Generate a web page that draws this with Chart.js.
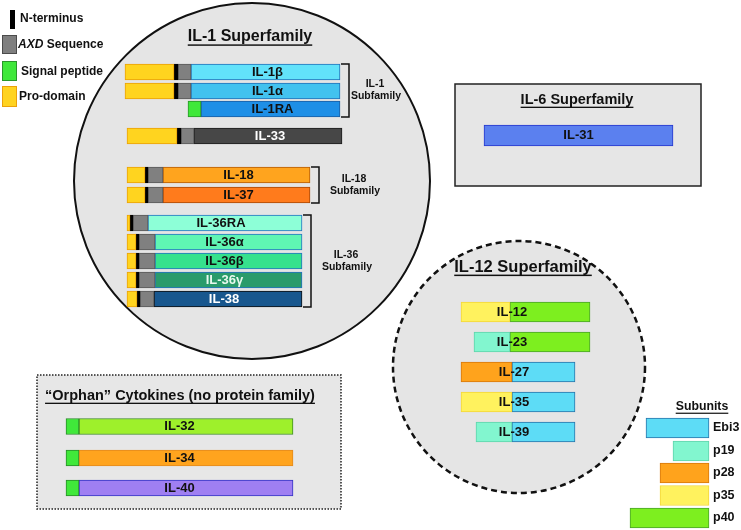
<!DOCTYPE html>
<html>
<head>
<meta charset="utf-8">
<script src="https://cdn.jsdelivr.net/npm/chart.js@4.4.1/dist/chart.umd.min.js"></script>
<style>
html, body { margin: 0; padding: 0; background: #fff; }
#wrap { width: 741px; height: 530px; }
</style>
</head>
<body>
<div id="wrap"><canvas id="c" width="741" height="530"></canvas></div>
<script>
const FONT = '"Liberation Sans", Arial, sans-serif';

// IL-1 superfamily (segment ends along the drawing's x axis, row centres on y)
const il1Names  = ['IL-1β', 'IL-1α', 'IL-1RA', 'IL-33', 'IL-18', 'IL-37', 'IL-36RA', 'IL-36α', 'IL-36β', 'IL-36γ', 'IL-38'];
const il1Rows   = [72, 91, 109, 136, 175, 195, 223, 242, 261, 280, 299];
const il1Pro    = [[125, 174], [125, 174], null, [127, 177], [127, 145], [127, 145], [127, 130], [127, 136], [127, 136], [127, 136], [127, 137]];
const il1NTerm  = [[174, 178], [174, 178], null, [177, 181], [145, 148], [145, 148], [130, 133], [136, 139], [136, 139], [136, 139], [137, 140]];
const il1Axd    = [[178, 191], [178, 191], null, [181, 194], [148, 163], [148, 163], [133, 148], [139, 155], [139, 155], [139, 155], [140, 154]];
const il1Signal = [null, null, [188, 201], null, null, null, null, null, null, null, null];
const il1Chain  = [[191, 340], [191, 340], [201, 340], [194, 342], [163, 310], [163, 310], [148, 302], [155, 302], [155, 302], [155, 302], [154, 302]];
const il1Subfamilies = [
    { name: 'IL-1',  rows: [0, 1, 2] },
    { name: 'IL-18', rows: [4, 5] },
    { name: 'IL-36', rows: [6, 7, 8, 9, 10] }
];

// IL-6 superfamily
const il6Names = ['IL-31'];
const il6Rows  = [135.5];
const il6Span  = [[484, 673]];

// IL-12 superfamily (alpha chain left, beta chain right)
const il12Names     = ['IL-12', 'IL-23', 'IL-27', 'IL-35', 'IL-39'];
const il12Rows      = [312, 342, 372, 402, 432];
const il12Alpha     = [[461, 510], [474, 510], [461, 512], [461, 512], [476, 512]];
const il12AlphaUnit = ['p35', 'p19', 'p28', 'p35', 'p19'];
const il12Beta      = [[510, 590], [510, 590], [512, 575], [512, 575], [512, 575]];
const il12BetaUnit  = ['p40', 'p40', 'Ebi3', 'Ebi3', 'Ebi3'];

// subunit key
const subunitNames = ['Ebi3', 'p19', 'p28', 'p35', 'p40'];
const subunitRows  = [428, 451, 473, 495.5, 518];
const subunitSpan  = [[646, 709], [673, 709], [660, 709], [660, 709], [630, 709]];

// orphan cytokines
const orphanNames  = ['IL-32', 'IL-34', 'IL-40'];
const orphanRows   = [426.5, 458, 488];
const orphanSignal = [[66, 79], [66, 79], [66, 79]];
const orphanChain  = [[79, 293], [79, 293], [79, 293]];

// colours
const il1Fill = ['#62e2fa', '#42c2ef', '#1e8fe6', '#474747', '#ffa41e', '#ff7b1c', '#8dffd7', '#5ff6b3', '#36e18d', '#2a9b6b', '#18578e'];
const il1Edge = ['#2470b8', '#2470b8', '#1b5ca2', '#1c1c1c', '#b65c08', '#a84806', '#2472c2', '#2472c2', '#2472c2', '#2472c2', '#0e0e0e'];
const il1Ink  = ['#111', '#111', '#111', '#fff', '#111', '#111', '#111', '#111', '#111', '#e8f8ee', '#fff'];
const unitFill = { Ebi3: '#5ddcf6', p19: '#82f6cf', p28: '#ffa31c', p35: '#fff25e', p40: '#7def1f' };
const unitEdge = { Ebi3: '#2a74aa', p19: '#5fd3ab', p28: '#d7780c', p35: '#f3d63a', p40: '#4aa32a' };
const orphanFill = ['#9ef02b', '#ffa41e', '#9f7ff2'];
const orphanEdge = ['#3c8a22', '#e38a1e', '#3434c4'];

function segs(rows, spans) {
    const out = [];
    rows.forEach((r, i) => { if (spans[i]) out.push({ x: spans[i], y: r }); });
    return out;
}

function barSet(label, data, thick, fill, edge) {
    return {
        label: label,
        data: data,
        barThickness: thick,
        backgroundColor: fill,
        borderColor: edge,
        borderWidth: 1,
        borderSkipped: false,
        grouped: false
    };
}

function title(ctx, text, cx, cy, size) {
    ctx.font = `bold ${size}px ${FONT}`;
    ctx.textAlign = 'center';
    ctx.textBaseline = 'middle';
    ctx.fillStyle = '#111';
    ctx.fillText(text, cx, cy);
    const w = ctx.measureText(text).width;
    ctx.fillRect(cx - w / 2, cy + size * 0.46, w, Math.max(1.2, size / 11));
}

function label(ctx, text, cx, cy, size, color, align) {
    ctx.font = `bold ${size}px ${FONT}`;
    ctx.textAlign = align || 'center';
    ctx.textBaseline = 'middle';
    ctx.fillStyle = color || '#111';
    ctx.fillText(text, cx, cy);
}

const backdrop = {
    id: 'backdrop',
    beforeDatasetsDraw(chart) {
        const { ctx, scales: { x, y } } = chart;
        const px = v => x.getPixelForValue(v);
        const py = v => y.getPixelForValue(v);
        ctx.save();

        // IL-1 superfamily circle
        ctx.beginPath();
        ctx.arc(px(252), py(181), px(252 + 178) - px(252), 0, Math.PI * 2);
        ctx.fillStyle = '#e5e5e5';
        ctx.fill();
        ctx.lineWidth = 2;
        ctx.strokeStyle = '#111';
        ctx.stroke();

        // IL-12 superfamily circle
        ctx.beginPath();
        ctx.arc(px(519), py(367), px(519 + 126) - px(519), 0, Math.PI * 2);
        ctx.fillStyle = '#e5e5e5';
        ctx.fill();
        ctx.setLineDash([6, 4]);
        ctx.lineWidth = 2.5;
        ctx.stroke();
        ctx.setLineDash([]);

        // IL-6 box
        ctx.fillStyle = '#e6e6e6';
        ctx.fillRect(px(455), py(84), px(701) - px(455), py(186) - py(84));
        ctx.lineWidth = 1.5;
        ctx.strokeStyle = '#222';
        ctx.strokeRect(px(455), py(84), px(701) - px(455), py(186) - py(84));

        // orphan box
        ctx.fillStyle = '#e7e7e7';
        ctx.fillRect(px(37), py(375), px(341) - px(37), py(509) - py(375));
        ctx.setLineDash([1.5, 1.5]);
        ctx.lineWidth = 1.5;
        ctx.strokeStyle = '#222';
        ctx.strokeRect(px(37), py(375), px(341) - px(37), py(509) - py(375));
        ctx.setLineDash([]);
        ctx.restore();
    },
    afterDatasetsDraw(chart) {
        const { ctx, scales: { x, y } } = chart;
        const px = v => x.getPixelForValue(v);
        const py = v => y.getPixelForValue(v);
        ctx.save();

        // legend
        ctx.fillStyle = '#000';
        ctx.fillRect(10, 10, 5, 19);
        const swatches = [['#7f7f7f', '#4b4b4b', 35, 19], ['#3fe83a', '#2a962a', 61, 20], ['#ffd320', '#eba10a', 86, 21]];
        swatches.forEach(([f, e, top, h]) => {
            ctx.fillStyle = e;
            ctx.fillRect(2, top, 15, h);
            ctx.fillStyle = f;
            ctx.fillRect(3, top + 1, 13, h - 2);
        });
        label(ctx, 'N-terminus', 20, 19, 12, '#111', 'left');
        ctx.font = `italic bold 12px ${FONT}`;
        ctx.textAlign = 'left';
        ctx.fillStyle = '#111';
        ctx.fillText('AXD', 18, 45);
        const axdW = ctx.measureText('AXD').width;
        label(ctx, ' Sequence', 18 + axdW, 45, 12, '#111', 'left');
        label(ctx, 'Signal peptide', 21, 72, 12, '#111', 'left');
        label(ctx, 'Pro-domain', 19, 97, 12, '#111', 'left');

        // titles
        title(ctx, 'IL-1 Superfamily', px(250), py(37), 16);
        title(ctx, 'IL-6 Superfamily', px(577), py(100), 14.5);
        title(ctx, 'IL-12 Superfamily', px(523), py(267), 16.5);
        title(ctx, '\u201cOrphan\u201d Cytokines (no protein family)', px(180), py(396), 14.5);
        title(ctx, 'Subunits', px(702), py(407), 12.3);

        // IL-1 labels
        il1Names.forEach((n, i) => {
            const c = il1Chain[i];
            const shift = i >= 6 ? -4 : 2;
            label(ctx, n, px((c[0] + c[1]) / 2 + shift), py(il1Rows[i]), 13, il1Ink[i]);
        });

        // subfamily brackets
        const labelGap = { 'IL-1': 26, 'IL-18': 35, 'IL-36': 35 };
        ctx.strokeStyle = '#111';
        ctx.lineWidth = 1.5;
        il1Subfamilies.forEach(g => {
            const end = Math.max(...g.rows.map(i => il1Chain[i][1]));
            const top = il1Rows[g.rows[0]] - 8;
            const bot = il1Rows[g.rows[g.rows.length - 1]] + 8;
            const bx = px(end + 9);
            ctx.beginPath();
            ctx.moveTo(px(end + 1), py(top));
            ctx.lineTo(bx, py(top));
            ctx.lineTo(bx, py(bot));
            ctx.lineTo(px(end + 1), py(bot));
            ctx.stroke();
            const mid = (top + bot) / 2;
            const lx = end + 9 + labelGap[g.name];
            label(ctx, g.name, px(lx), py(mid - 6), 10.5);
            label(ctx, 'Subfamily', px(lx + 1), py(mid + 6), 10.5);
        });

        // IL-6
        il6Names.forEach((n, i) => {
            const s = il6Span[i];
            label(ctx, n, px((s[0] + s[1]) / 2), py(il6Rows[i]), 13);
        });

        // IL-12 (name split at the alpha/beta junction)
        il12Names.forEach((n, i) => {
            label(ctx, n, px(il12Alpha[i][1] + 2), py(il12Rows[i]), 13);
        });

        // subunit key labels
        subunitNames.forEach((n, i) => {
            label(ctx, n, px(subunitSpan[i][1] + 4), py(subunitRows[i]), 12.5, '#111', 'left');
        });

        // orphan labels
        orphanNames.forEach((n, i) => {
            label(ctx, n, px((orphanSignal[i][0] + orphanChain[i][1]) / 2), py(orphanRows[i]), 13);
        });
        ctx.restore();
    }
};

const il1Keep = il1Chain.map((c, i) => i);
const datasets = [
    barSet('Pro-domain', segs(il1Rows, il1Pro), 16, '#ffd41f', '#eaa10a'),
    barSet('N-terminus', segs(il1Rows, il1NTerm), 16, '#000', '#000'),
    barSet('AXD Sequence', segs(il1Rows, il1Axd), 16, '#808080', '#5a5a5a'),
    barSet('Signal peptide', segs(il1Rows, il1Signal), 16, '#40e83a', '#2a962a'),
    barSet('IL-1 chains', segs(il1Rows, il1Chain), 16, il1Keep.map(i => il1Fill[i]), il1Keep.map(i => il1Edge[i])),
    barSet('IL-6', segs(il6Rows, il6Span), 21, '#5b80ef', '#2636cc'),
    barSet('IL-12 alpha', segs(il12Rows, il12Alpha), 20, il12AlphaUnit.map(u => unitFill[u]), il12AlphaUnit.map(u => unitEdge[u])),
    barSet('IL-12 beta', segs(il12Rows, il12Beta), 20, il12BetaUnit.map(u => unitFill[u]), il12BetaUnit.map(u => unitEdge[u])),
    barSet('Subunits', segs(subunitRows, subunitSpan), 20, subunitNames.map(u => unitFill[u]), subunitNames.map(u => unitEdge[u])),
    barSet('Orphan signal', segs(orphanRows, orphanSignal), 16, '#40e83a', '#2a8a2a'),
    barSet('Orphan chains', segs(orphanRows, orphanChain), 16, orphanFill, orphanEdge)
];

new Chart(document.getElementById('c'), {
    type: 'bar',
    data: { datasets: datasets },
    options: {
        indexAxis: 'y',
        responsive: false,
        animation: false,
        devicePixelRatio: 1,
        layout: { padding: 0 },
        clip: false,
        scales: {
            x: { type: 'linear', min: 0, max: 741, offset: false, display: false },
            y: { type: 'linear', min: 0, max: 530, reverse: true, offset: false, display: false }
        },
        plugins: {
            legend: { display: false },
            tooltip: { enabled: false }
        }
    },
    plugins: [backdrop]
});
</script>
</body>
</html>
